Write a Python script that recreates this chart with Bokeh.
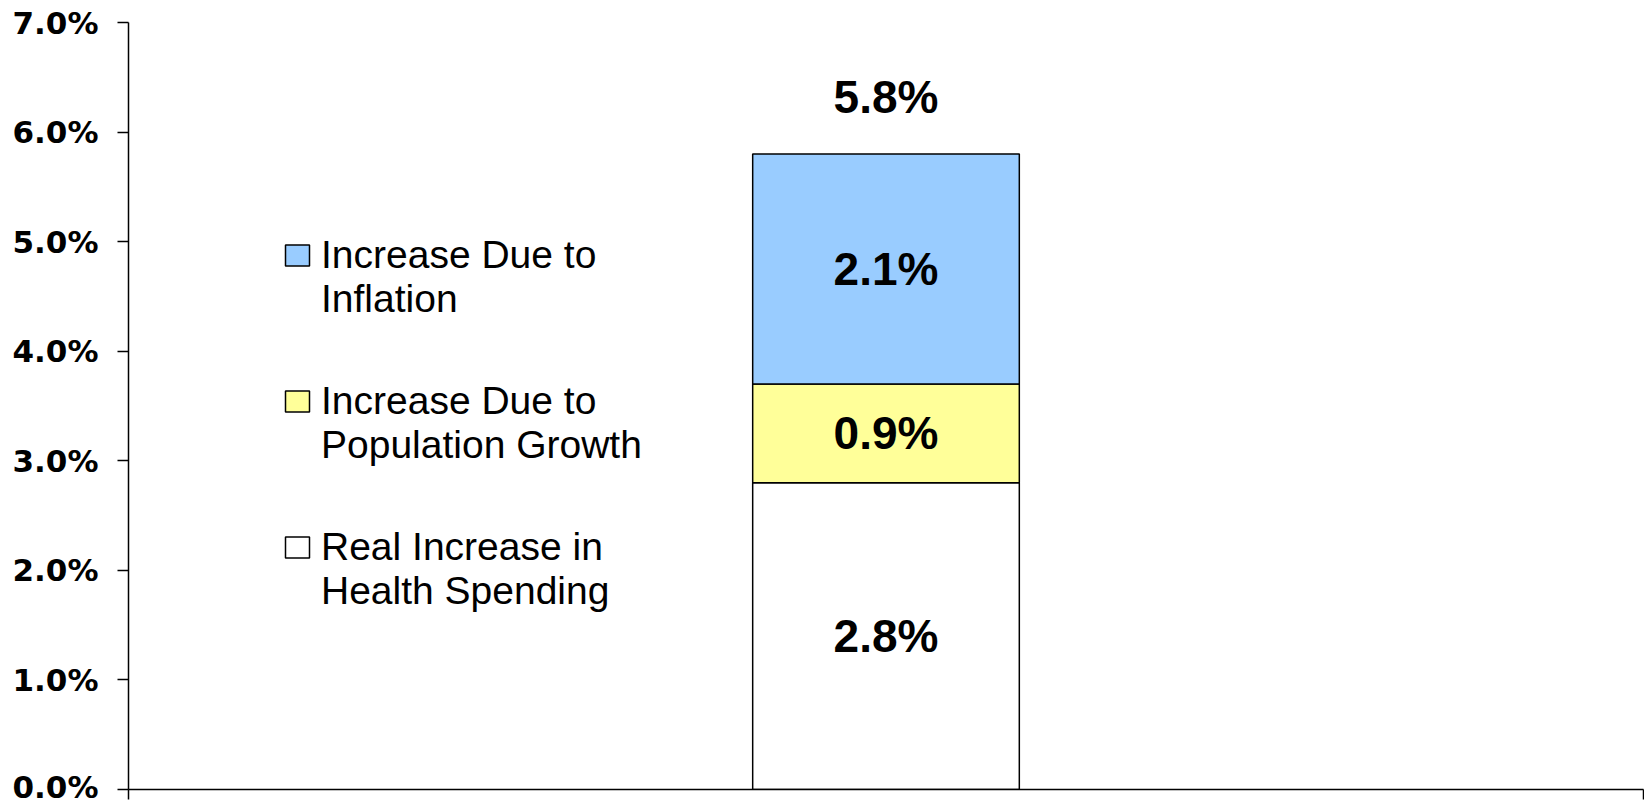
from bokeh.plotting import figure
from bokeh.models import (Range1d, FixedTicker, PrintfTickFormatter, Legend,
                          LegendItem, ColumnDataSource)
from bokeh.core.properties import value
from bokeh.embed import file_html
from bokeh.resources import INLINE

# ---- data ----
series = ["Real Increase in\nHealth Spending",
          "Increase Due to\nPopulation Growth",
          "Increase Due to\nInflation"]
series_keys = ["real", "pop", "infl"]
values = [2.8, 0.9, 2.1]
colors = ["#FFFFFF", "#FFFF99", "#99CCFF"]
total = 5.8
y_ticks = [0, 1, 2, 3, 4, 5, 6, 7]
bar_x = 0.5

p = figure(width=1644, height=804, output_backend="svg", toolbar_location=None,
           x_range=Range1d(0, 1), y_range=Range1d(0, 7),
           min_border_left=128, min_border_right=1, min_border_top=22,
           min_border_bottom=15)
p.outline_line_color = None
p.grid.visible = False
p.background_fill_color = "white"

# y axis
p.yaxis.ticker = FixedTicker(ticks=y_ticks)
p.yaxis.formatter = PrintfTickFormatter(format="%.1f%%")
p.yaxis.major_tick_out = 11
p.yaxis.major_tick_in = 0
p.yaxis.minor_tick_line_color = None
p.yaxis.major_label_standoff = 19
p.yaxis.major_label_text_font = "DejaVu Sans"
p.yaxis.major_label_text_font_style = "bold"
p.yaxis.major_label_text_font_size = "31px"
p.yaxis.major_label_text_color = "black"
p.yaxis.axis_line_width = 1.5
p.yaxis.major_tick_line_width = 1.5
p.yaxis.axis_line_color = "black"

# x axis (category boundaries only, no labels)
p.xaxis.ticker = FixedTicker(ticks=[0, 1])
p.xaxis.major_label_overrides = {0: "", 1: ""}
p.xaxis.major_tick_out = 10
p.xaxis.major_tick_in = 0
p.xaxis.minor_tick_line_color = None
p.xaxis.major_label_standoff = 0
p.xaxis.axis_line_width = 1.5
p.xaxis.major_tick_line_width = 1.5
p.xaxis.axis_line_color = "black"

data = {"x": [bar_x]}
for k, v in zip(series_keys, values):
    data[k] = [v]
src = ColumnDataSource(data)
rends = p.vbar_stack(series_keys, x="x", width=0.176, fill_color=colors,
                     line_color="black", line_width=1.5, source=src)

# segment labels
centers = []
acc = 0.0
for v in values:
    centers.append(acc + v / 2)
    acc += v
p.text(x=[bar_x] * len(values), y=centers, text=[f"{v:.1f}%" for v in values],
       text_font=value("Liberation Sans"), text_font_style="bold",
       text_font_size="46px", text_align="center", text_baseline="middle",
       text_color="black")
p.text(x=[bar_x], y=[total], text=[f"{total:.1f}%"], y_offset=-57,
       text_font=value("Liberation Sans"), text_font_style="bold",
       text_font_size="46px", text_align="center", text_baseline="middle",
       text_color="black")

# legend: first lines with swatches, second lines without swatches
blank = p.vbar(x=[], top=[], width=0.1, fill_alpha=0, line_alpha=0)
order = list(reversed(range(len(series))))
first_items = [LegendItem(label=series[i].split("\n")[0], renderers=[rends[i]]) for i in order]
second_items = [LegendItem(label=series[i].split("\n")[1], renderers=[blank]) for i in order]

common = dict(label_text_font="Liberation Sans", label_text_font_size="39px",
              label_text_color="black",
              glyph_width=30, glyph_height=26, label_standoff=9,
              spacing=102, padding=0, margin=0,
              border_line_alpha=0, background_fill_alpha=0)
legend_a = Legend(items=first_items, location=(154, 220), **common)
legend_b = Legend(items=second_items, location=(154, 176), **common)
p.add_layout(legend_a)
p.add_layout(legend_b)

open("out.html", "w").write(file_html(p, INLINE))
